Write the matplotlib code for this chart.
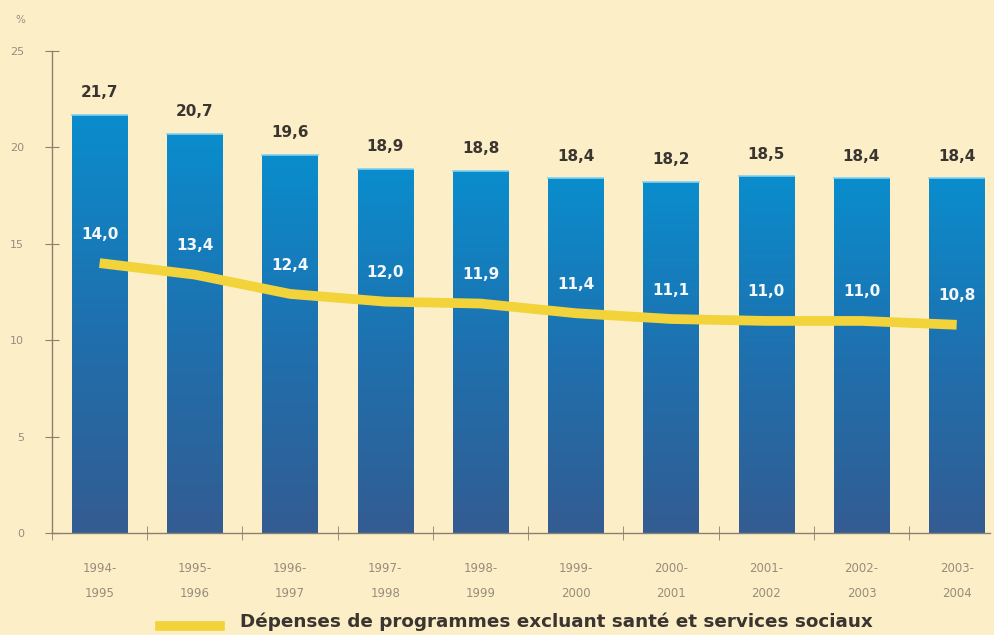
import numpy as np
import matplotlib
matplotlib.use("Agg")
import matplotlib.pyplot as plt
from matplotlib.colors import LinearSegmentedColormap
from matplotlib.patches import Rectangle

plt.rcParams["font.family"] = ["DejaVu Sans"]

categories = ["1994-\n1995", "1995-\n1996", "1996-\n1997", "1997-\n1998", "1998-\n1999",
              "1999-\n2000", "2000-\n2001", "2001-\n2002", "2002-\n2003", "2003-\n2004"]
total = [21.7, 20.7, 19.6, 18.9, 18.8, 18.4, 18.2, 18.5, 18.4, 18.4]
excl = [14.0, 13.4, 12.4, 12.0, 11.9, 11.4, 11.1, 11.0, 11.0, 10.8]
legend_label = "Dépenses de programmes excluant santé et services sociaux"

bg = "#FCEFC8"
grey = "#968D7B"
fig = plt.figure(figsize=(9.95, 6.35), dpi=100, facecolor=bg)
ax = fig.add_axes([52/995, 102/635, 938/995, 482/635], facecolor=bg)

x = np.arange(len(categories))
w = 0.58
cmap = LinearSegmentedColormap.from_list("b", ["#335C92", "#1F70AE", "#0A8DCD"])
grad = np.linspace(0, 1, 256).reshape(-1, 1)
for xi, v in zip(x, total):
    rect = Rectangle((xi - w/2, 0), w, v, facecolor="none", edgecolor="none")
    ax.add_patch(rect)
    im = ax.imshow(grad, cmap=cmap, origin="lower", aspect="auto",
                   extent=(xi - w/2, xi + w/2, 0, v), zorder=2)
    im.set_clip_path(rect)
    ax.plot([xi - w/2, xi + w/2], [v, v], color="#7FD0F0", lw=1.2, zorder=3)
    ax.text(xi, v + 1.15, f"{v:.1f}".replace(".", ","), ha="center", va="center",
            fontsize=11, fontweight="bold", color="#3A3530", zorder=4)

ax.plot(x, excl, color="#F2D43A", lw=7, solid_capstyle="butt", zorder=5)
for xi, v in zip(x, excl):
    ax.text(xi, v + 1.5, f"{v:.1f}".replace(".", ","), ha="center", va="center",
            fontsize=11, fontweight="bold", color="#F4F8FC", zorder=6)

ax.set_xlim(-0.5, 9.35)
ax.set_ylim(0, 25)
for s in ["top", "right"]:
    ax.spines[s].set_visible(False)
for s in ["left", "bottom"]:
    ax.spines[s].set_color("#8A8070")
    ax.spines[s].set_linewidth(1)

ax.set_yticks([0, 5, 10, 15, 20, 25])
ax.tick_params(axis="y", direction="inout", length=10, color="#8A8070",
               labelsize=8, labelcolor=grey, pad=15)
ax.set_xticks(x)
ax.set_xticklabels(categories, fontsize=8.5, color=grey, linespacing=2.2)
ax.tick_params(axis="x", length=0, pad=21)
ax.set_xticks(np.arange(-0.5, 9.0, 1.0), minor=True)
ax.tick_params(axis="x", which="minor", direction="inout", length=10, color="#8A8070")

fig.text(15/995, 1 - 20/635, "%", fontsize=7.5, color=grey, va="center")

# legend
fig.add_artist(plt.Line2D([160/995, 220/995], [1 - 626/635, 1 - 626/635],
                          color="#F2D43A", lw=7, transform=fig.transFigure))
fig.text(240/995, 1 - 622/635, legend_label, fontsize=13.2, fontweight="bold",
         color="#3A3530", va="center")

fig.savefig("out.png", dpi=100, facecolor=bg)
